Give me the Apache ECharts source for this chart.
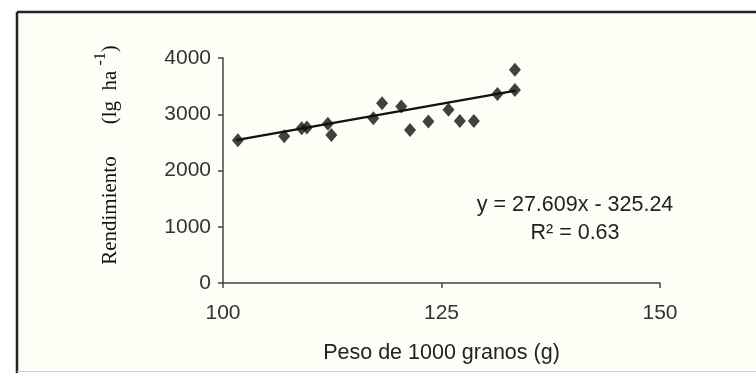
<!DOCTYPE html>
<html>
<head>
<meta charset="utf-8">
<script src="https://cdn.jsdelivr.net/npm/echarts@6/dist/echarts.min.js"></script>
<style>
  html, body { margin: 0; padding: 0; background: #ffffff; }
  #chart { width: 756px; height: 373px; }
</style>
</head>
<body>
<div id="chart"></div>
<script>
// Peso de 1000 granos (g) vs rendimiento
const grainWeight = [101.7, 107.0, 109.0, 109.6, 112.0, 112.4, 117.2, 118.2, 120.4, 121.4, 123.5, 125.8, 127.1, 128.7, 131.4, 133.4, 133.4];
const yieldValues = [2540, 2610, 2750, 2765, 2830, 2630, 2930, 3195, 3140, 2720, 2870, 3080, 2880, 2880, 3360, 3790, 3430];

// trend line end points as drawn
const trendX = [101.5, 133.5];
const trendY = [2540, 3420];

const xTicks = [100, 125, 150];
const yTicks = [0, 1000, 2000, 3000, 4000];

const equationText = 'y = 27.609x - 325.24\nR² = 0.63';

const chart = echarts.init(document.getElementById('chart'));

const axisColor = '#444';
const labelFont = '"Liberation Sans", Arial, sans-serif';
const serifFont = '"Liberation Serif", "Times New Roman", serif';

const option = {
  backgroundColor: '#ffffff',
  animation: false,
  grid: { left: 223, right: 96, top: 58, bottom: 90 },
  graphic: [
    {
      type: 'rect', z: -10, silent: true,
      shape: { x: 17, y: 12, width: 760, height: 359 },
      style: { fill: '#fefef7' }
    },
    {
      type: 'line', z: 100, silent: true,
      shape: { x1: 17, y1: 12, x2: 760, y2: 12 },
      style: { stroke: '#222', lineWidth: 2.5 }
    },
    {
      type: 'line', z: 100, silent: true,
      shape: { x1: 17, y1: 12, x2: 17, y2: 373 },
      style: { stroke: '#222', lineWidth: 2.5 }
    },
    {
      type: 'line', z: 100, silent: true,
      shape: { x1: 17, y1: 371.5, x2: 760, y2: 371.5 },
      style: { stroke: '#cfcfcf', lineWidth: 1 }
    },
    {
      type: 'text', silent: true,
      x: 107, y: 155, rotation: Math.PI / 2,
      style: {
        text: '{a|Rendimiento}{b|(lg  ha }{sup|-1}{a|)}',
        align: 'center', verticalAlign: 'middle',
        rich: {
          a: { fontFamily: serifFont, fontSize: 21, fill: '#111', lineHeight: 28, verticalAlign: 'bottom' },
          b: { fontFamily: serifFont, fontSize: 21, fill: '#111', lineHeight: 28, verticalAlign: 'bottom', padding: [0, 0, 0, 32] },
          sup: { fontFamily: serifFont, fontSize: 16, fill: '#111', lineHeight: 28, verticalAlign: 'top' }
        }
      }
    },
    {
      type: 'text', silent: true,
      x: 575, y: 219,
      style: {
        text: equationText,
        align: 'center', verticalAlign: 'middle',
        fontFamily: labelFont, fontSize: 21.5, lineHeight: 28, fill: '#222'
      }
    }
  ],
  xAxis: {
    type: 'value',
    min: xTicks[0], max: xTicks[xTicks.length - 1], interval: 25,
    name: 'Peso de 1000 granos (g)',
    nameLocation: 'middle', nameGap: 59,
    nameTextStyle: { fontFamily: labelFont, fontSize: 21.5, color: '#222' },
    axisLine: { lineStyle: { color: axisColor, width: 1.5 } },
    axisTick: { show: true, length: 5, lineStyle: { color: axisColor, width: 1.5 } },
    axisLabel: { fontFamily: labelFont, fontSize: 21, color: '#333', margin: 20 },
    splitLine: { show: false }
  },
  yAxis: {
    type: 'value',
    min: yTicks[0], max: yTicks[yTicks.length - 1], interval: 1000,
    axisLine: { show: true, lineStyle: { color: axisColor, width: 1.5 } },
    axisTick: { show: true, length: 5, lineStyle: { color: axisColor, width: 1.5 } },
    axisLabel: { fontFamily: labelFont, fontSize: 21, color: '#333', margin: 12, formatter: v => String(v) },
    splitLine: { show: false }
  },
  series: [
    {
      type: 'line',
      data: trendX.map((x, i) => [x, trendY[i]]),
      showSymbol: false,
      lineStyle: { color: '#111', width: 2.5 },
      z: 2
    },
    {
      type: 'scatter',
      data: grainWeight.map((x, i) => [x, yieldValues[i]]),
      symbol: 'diamond',
      symbolSize: [12, 14],
      itemStyle: { color: '#111' },
      z: 3
    }
  ]
};

chart.setOption(option);
</script>
</body>
</html>
